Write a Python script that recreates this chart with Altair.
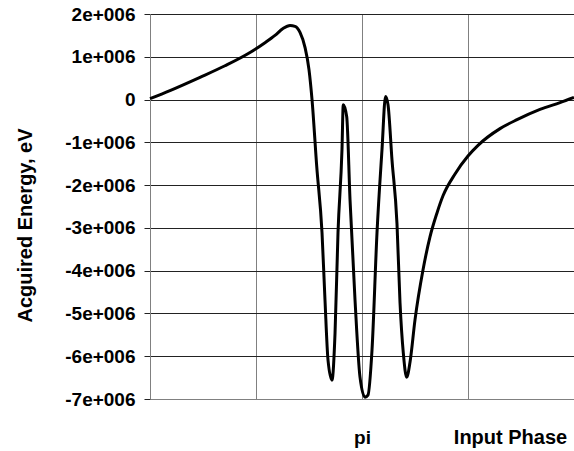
import math
import altair as alt
import pandas as pd

phase = [0.000, 0.296, 0.741, 1.111, 1.482, 1.704, 1.852, 1.971, 2.075, 2.149,
         2.223, 2.297, 2.356, 2.401, 2.471, 2.549, 2.593, 2.638, 2.697, 2.742,
         2.786, 2.845, 2.864, 2.915, 2.964, 3.038, 3.112, 3.186, 3.230, 3.290,
         3.364, 3.438, 3.490, 3.527, 3.586, 3.660, 3.705, 3.754, 3.804, 3.853,
         3.927, 4.046, 4.149, 4.253, 4.342, 4.520, 4.712, 4.861, 5.187, 5.439,
         5.779, 6.076, 6.283]
energy = [0.02e6, 0.21e6, 0.52e6, 0.79e6, 1.10e6, 1.33e6, 1.50e6, 1.66e6, 1.73e6, 1.71e6,
          1.57e6, 1.22e6, 0.70e6, 0.00e6, -1.57e6, -3.11e6, -4.68e6, -6.09e6, -6.56e6, -5.46e6,
          -3.11e6, -1.17e6, -0.12e6, -0.40e6, -2.34e6, -4.68e6, -6.49e6, -6.96e6, -6.91e6, -5.85e6,
          -3.11e6, -1.17e6, 0.07e6, -0.12e6, -1.41e6, -2.90e6, -4.75e6, -5.93e6, -6.49e6, -6.14e6,
          -5.15e6, -3.98e6, -3.21e6, -2.65e6, -2.25e6, -1.74e6, -1.32e6, -1.07e6, -0.68e6, -0.47e6,
          -0.23e6, -0.07e6, 0.05e6]

y_ticks = [2e6, 1e6, 0, -1e6, -2e6, -3e6, -4e6, -5e6, -6e6, -7e6]
x_ticks = [math.pi / 2, math.pi, 3 * math.pi / 2]

df = pd.DataFrame({"phase": phase, "energy": energy, "order": list(range(len(phase)))})

FONT = "Liberation Sans"

chart = alt.Chart(df).mark_line(
    color="black", strokeWidth=3, strokeJoin="round", interpolate="monotone"
).encode(
    x=alt.X(
        "phase:Q",
        scale=alt.Scale(domain=[0, 2 * math.pi], nice=False, zero=False),
        axis=alt.Axis(
            values=x_ticks,
            labelExpr="datum.value > 3 && datum.value < 3.3 ? 'pi' : ''",
            ticks=False,
            tickSize=0,
            labelPadding=44,
            labelBaseline="alphabetic",
            labelFont=FONT,
            labelFontWeight="bold",
            labelFontSize=19,
            labelColor="black",
            grid=True,
            gridColor="#808080",
            gridWidth=1,
            domainColor="#808080",
            domainWidth=1,
            title="Input Phase",
            titleFont=FONT,
            titleFontWeight="bold",
            titleFontSize=20,
            titleColor="black",
            titleAngle=0,
            titleX=360,
            titleY=44,
            titleAlign="center",
            titleBaseline="alphabetic",
        ),
    ),
    y=alt.Y(
        "energy:Q",
        scale=alt.Scale(domain=[-7e6, 2e6], nice=False, zero=False),
        axis=alt.Axis(
            values=y_ticks,
            labelExpr="datum.value == 0 ? '0' : (datum.value < 0 ? '-' : '') + round(abs(datum.value) / 1e6) + 'e+006'",
            tickSize=6,
            tickColor="#222222",
            labelPadding=9,
            labelFont=FONT,
            labelFontWeight="bold",
            labelFontSize=19,
            labelColor="black",
            grid=True,
            gridColor="#222222",
            gridWidth=1,
            domainColor="#808080",
            domainWidth=1,
            title="Acguired Energy, eV",
            titleFont=FONT,
            titleFontWeight="bold",
            titleFontSize=20,
            titleColor="black",
            titleAngle=-90,
            titleX=-119,
            titleY=211,
            titleAlign="center",
            titleBaseline="alphabetic",
        ),
    ),
    order="order:Q",
).properties(
    width=424,
    height=385,
    autosize=alt.AutoSizeParams(type="none"),
    padding={"left": 150, "top": 14, "right": 0, "bottom": 52},
    background="white",
).configure_view(strokeWidth=0)

chart.save("out.html", embed_options={"renderer": "svg", "actions": False})
